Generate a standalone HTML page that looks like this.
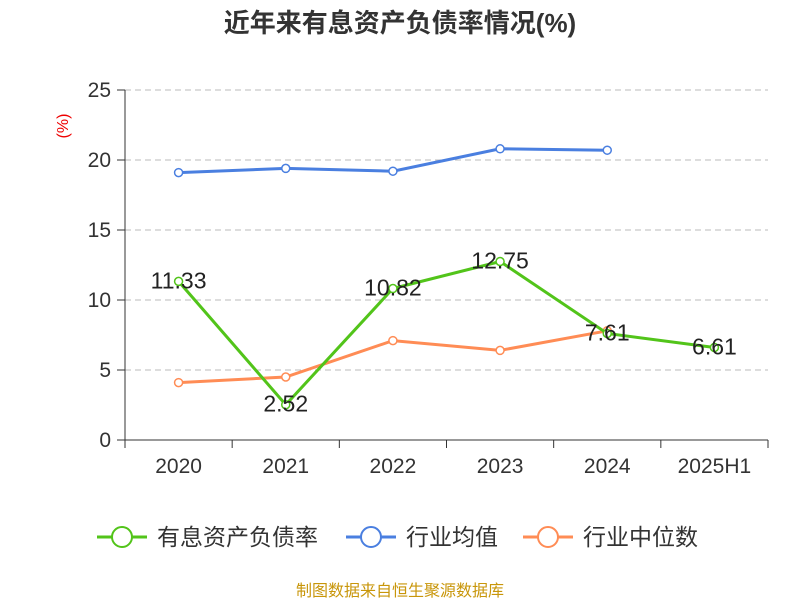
<!DOCTYPE html>
<html><head><meta charset="utf-8"><style>
body{margin:0;background:#fff;}
svg text{font-family:"Liberation Sans","Noto Sans CJK SC",sans-serif;}
</style></head><body>
<svg id="chart" width="800" height="600" xmlns="http://www.w3.org/2000/svg">
<text x="400" y="32" text-anchor="middle" font-size="26" font-weight="bold" fill="#333">近年来有息资产负债率情况(%)</text>
<text x="68" y="126" text-anchor="middle" font-size="16" fill="#e00" transform="rotate(-90 68 126)">(%)</text>
<g id="grid"></g><g id="axes"></g><g id="series"></g>
<g>
<g><line x1="97" y1="537" x2="147" y2="537" stroke="#52c41a" stroke-width="3"/><circle cx="122" cy="537" r="10" fill="#fff" stroke="#52c41a" stroke-width="2"/><text x="157" y="545" font-size="23" fill="#333">有息资产负债率</text></g>
<g><line x1="346" y1="537" x2="396" y2="537" stroke="#4a7fe0" stroke-width="3"/><circle cx="371" cy="537" r="10" fill="#fff" stroke="#4a7fe0" stroke-width="2"/><text x="406" y="545" font-size="23" fill="#333">行业均值</text></g>
<g><line x1="523" y1="537" x2="573" y2="537" stroke="#ff8c55" stroke-width="3"/><circle cx="548" cy="537" r="10" fill="#fff" stroke="#ff8c55" stroke-width="2"/><text x="583" y="545" font-size="23" fill="#333">行业中位数</text></g>
</g>
<text x="400" y="596" text-anchor="middle" font-size="16" fill="#c8960a">制图数据来自恒生聚源数据库</text>
</svg>
<script>
const categories=["2020","2021","2022","2023","2024","2025H1"];
const companyValues=[11.33,2.52,10.82,12.75,7.61,6.61];
const avgValues=[19.1,19.4,19.2,20.8,20.7];
const medianValues=[4.1,4.5,7.1,6.4,7.8];
const yTicks=[0,5,10,15,20,25];
const NS="http://www.w3.org/2000/svg";
const x0=125,x1=768,yb=440,yt=90,ymax=25;
const bw=(x1-x0)/categories.length;
const X=i=>x0+bw*(i+0.5);
const Y=v=>yb-(v/ymax)*(yb-yt);
function mk(tag,attrs,parent){const e=document.createElementNS(NS,tag);for(const k in attrs)e.setAttribute(k,attrs[k]);document.getElementById(parent).appendChild(e);return e;}
yTicks.forEach(t=>{
 if(t>0){const g=mk('line',{x1:x0,x2:x1,y1:Y(t),y2:Y(t),stroke:'#bbb','stroke-dasharray':'6,4'},'grid');
 
 }
 const tk=mk('line',{x1:x0-8,x2:x0,y1:Y(t),y2:Y(t),stroke:'#333'},'axes');
 
 
 const l=mk('text',{x:x0-14,y:Y(t)+7,'text-anchor':'end','font-size':'21',fill:'#333'},'axes');l.textContent=t;
 
 
});
const ya=mk('line',{x1:x0,x2:x0,y1:yt,y2:yb,stroke:'#333'},'axes');


const xa=mk('line',{x1:x0,x2:x1,y1:yb,y2:yb,stroke:'#333'},'axes');


for(let i=0;i<=categories.length;i++){const t=mk('line',{x1:x0+bw*i,x2:x0+bw*i,y1:yb,y2:yb+8,stroke:'#333'},'axes');
 
 }
categories.forEach((c,i)=>{const l=mk('text',{x:X(i),y:yb+33,'text-anchor':'middle','font-size':'21',fill:'#333'},'axes');l.textContent=c;
 
 });
function series(vals,color,name,labels){
 const p=mk('polyline',{points:vals.map((v,i)=>X(i)+','+Y(v)).join(' '),fill:'none',stroke:color,'stroke-width':3},'series');
 
 
 vals.forEach((v,i)=>{const c=mk('circle',{cx:X(i),cy:Y(v),r:4,fill:'#fff',stroke:color,'stroke-width':1.5},'series');
  
  
  if(labels){const t=mk('text',{x:X(i),y:Y(v)+7,'text-anchor':'middle','font-size':'23',fill:'#222'},'series');t.textContent=v.toFixed(2);
  
  }
 });
}
series(avgValues,'#4a7fe0','industry-average',false);
series(medianValues,'#ff8c55','industry-median',false);
series(companyValues,'#52c41a','company',true);
</script>
</body></html>
